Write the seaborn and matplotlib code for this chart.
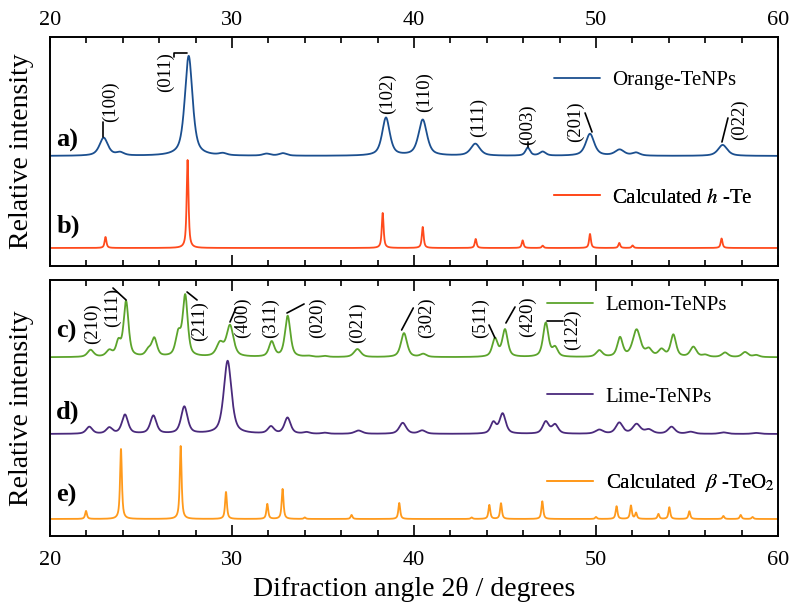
import numpy as np
import matplotlib
matplotlib.use('Agg')
import matplotlib.pyplot as plt
import seaborn as sns

# peak tables (position in 2theta, height, fwhm)
orange_pos = [22.95, 23.85, 27.62, 29.5, 31.9, 32.8, 38.46, 40.48, 43.37, 46.25, 47.07, 49.67, 51.3, 52.2, 56.96]
orange_int = [18, 3, 100, 2, 2, 2.5, 38, 36, 12, 8, 4, 22, 6, 3, 11]
orange_fwhm = [0.55, 0.5, 0.5, 0.5, 0.5, 0.5, 0.5, 0.55, 0.6, 0.3, 0.4, 0.55, 0.6, 0.5, 0.6]

hte_pos = [23.05, 27.56, 38.28, 40.48, 43.39, 45.97, 47.07, 49.67, 51.28, 52.01, 56.90]
hte_int = [11, 88, 35, 21, 9, 7.6, 2.3, 14, 5, 2.5, 9.5]
hte_fwhm = [0.12] * len(hte_pos)

lemon_pos = [22.23, 23.26, 23.76, 24.18, 25.40, 25.73, 27.05, 27.43, 29.34, 29.89, 32.18, 33.06, 34.19,
             35.1, 36.89, 39.45, 40.51, 44.45, 45.0, 47.24, 47.75, 50.18, 51.32, 52.23, 52.9, 53.6,
             54.25, 55.35, 56.0, 57.09, 58.19, 58.8]
lemon_int = [7, 6, 14, 55, 6, 18, 22, 60, 13, 31, 15, 41, 1, 1, 8, 24, 3, 18, 27, 34, 9, 6.5, 19, 27,
             7, 7, 22, 10, 2, 4.5, 5, 2]
lemon_fwhm = [0.4, 0.4, 0.3, 0.32, 0.35, 0.35, 0.35, 0.32, 0.45, 0.45, 0.35, 0.35, 0.4, 0.4, 0.45, 0.4,
              0.4, 0.35, 0.35, 0.35, 0.35, 0.4, 0.35, 0.5, 0.4, 0.4, 0.35, 0.4, 0.4, 0.4, 0.4, 0.4]

lime_pos = [22.16, 23.26, 24.12, 25.68, 27.38, 29.76, 32.14, 33.05, 34.1, 35.1, 36.95, 39.38, 40.45,
            44.36, 44.87, 47.24, 47.75, 50.18, 51.28, 52.23, 52.9, 54.15, 55.2, 57.0, 58.8]
lime_int = [7, 6, 19, 18, 27, 73, 7, 16, 1.5, 1, 3.3, 11, 3.3, 11, 20, 12, 9, 4, 11, 9.5, 4, 7, 2, 1.5, 1]
lime_fwhm = [0.4, 0.4, 0.4, 0.4, 0.42, 0.5, 0.4, 0.4, 0.4, 0.4, 0.5, 0.45, 0.45, 0.35, 0.4, 0.4, 0.4,
             0.5, 0.45, 0.5, 0.5, 0.45, 0.5, 0.5, 0.5]

teo2_pos = [21.98, 23.90, 27.18, 29.67, 31.94, 32.78, 34.0, 36.57, 39.19, 43.17, 44.14, 44.78, 47.05,
            50.0, 51.13, 51.92, 52.2, 53.43, 54.03, 55.13, 57.0, 57.95, 58.6]
teo2_int = [8, 70, 73, 27, 15, 30, 1.5, 4, 16, 1.5, 14, 15.7, 17.7, 2, 12.7, 13.3, 6, 5, 11.7, 7.7, 3, 4, 2]
teo2_fwhm = [0.12] * len(teo2_pos)

theta = np.linspace(20, 60, 4001)


def pattern(pos, inten, fwhm, eta):
    y = np.zeros_like(theta)
    for p, h, w in zip(pos, inten, fwhm):
        hw = w / 2
        lor = hw**2 / ((theta - p)**2 + hw**2)
        gau = np.exp(-np.log(2) * ((theta - p) / hw)**2)
        y += h * (eta * lor + (1 - eta) * gau)
    return y


sns.set_theme(style='ticks')
plt.rcParams['font.family'] = ['Liberation Serif', 'DejaVu Serif']
plt.rcParams['mathtext.fontset'] = 'stix'
plt.rcParams['text.color'] = 'black'
plt.rcParams['axes.labelcolor'] = 'black'
plt.rcParams['xtick.color'] = 'black'

fig = plt.figure(figsize=(8, 6.12), dpi=100)
ax1 = fig.add_axes([0.0625, 0.5654, 0.91, 0.3742])
ax2 = fig.add_axes([0.0625, 0.1242, 0.91, 0.4183])

top_series = [
    (pattern(orange_pos, orange_int, orange_fwhm, 0.65) + 110, '#1b4f8f', 'Orange-TeNPs', 0.812),
    (pattern(hte_pos, hte_int, hte_fwhm, 0.8) + 18, '#ff4a1c', 'Calculated $h$ -Te', 0.297),
]
bottom_series = [
    (pattern(lemon_pos, lemon_int, lemon_fwhm, 0.6) + 178.7, '#5ca42c', 'Lemon-TeNPs', 0.902),
    (pattern(lime_pos, lime_int, lime_fwhm, 0.6) + 102, '#4a2a7c', 'Lime-TeNPs', 0.543),
    (pattern(teo2_pos, teo2_int, teo2_fwhm, 0.8) + 17, '#ff9a1c', r'Calculated  $\beta$ -TeO$_2$', 0.207),
]

for ax, series, lx in [(ax1, top_series, 0.692), (ax2, bottom_series, 0.683)]:
    for y, color, label, ly in series:
        sns.lineplot(x=theta, y=y, ax=ax, color=color, lw=1.3, estimator=None, sort=False)
        h = ax.lines[-1]
        leg = ax.legend([h], [label], loc='center left', bbox_to_anchor=(lx, ly), frameon=False,
                        fontsize=15, handlelength=2.2, handletextpad=0.6, borderpad=0, borderaxespad=0,
                        labelcolor='black')
        ax.add_artist(leg)

for ax in (ax1, ax2):
    ax.set_xlim(20, 60)
    ax.set_xticks([20, 30, 40, 50, 60])
    ax.set_xticks(np.arange(20, 61, 2), minor=True)
    ax.set_yticks([])
    ax.tick_params(axis='x', which='both', direction='in', top=True, bottom=True,
                   width=1.2, labelsize=16, colors='black')
    ax.tick_params(axis='x', which='major', length=8)
    ax.tick_params(axis='x', which='minor', length=4.5)
    for s in ax.spines.values():
        s.set_visible(True)
        s.set_linewidth(1.4)
        s.set_color('black')
    ax.set_ylabel('Relative intensity', fontsize=20, color='black')
    ax.yaxis.set_label_coords(-0.022, 0.5)

ax1.set_ylim(0, 229)
ax2.set_ylim(0, 256)
ax1.tick_params(axis='x', labeltop=True, labelbottom=False, pad=5)
ax2.tick_params(axis='x', pad=11)
ax1.set_xlabel('')
ax2.set_xlabel('Difraction angle 2θ / degrees', fontsize=20, labelpad=5, color='black')

# panel letters
for ax, txt, y in [(ax1, 'a)', 126), (ax1, 'b)', 40), (ax2, 'c)', 205), (ax2, 'd)', 124), (ax2, 'e)', 41)]:
    ax.text(20.35, y, txt, fontsize=19, fontweight='bold', va='center', ha='left', color='black')

# Miller index labels with leader lines
top_labels = [('(100)', 23.30, 164), ('(011)', 26.32, 194), ('(102)', 38.52, 172), ('(110)', 40.60, 174),
              ('(111)', 43.52, 149), ('(003)', 46.26, 141), ('(201)', 48.85, 144), ('(022)', 57.91, 146)]
top_leaders = [([22.90, 22.90], [144, 129]), ([26.81, 26.81, 27.53], [209, 213, 213]),
               ([46.25, 46.25], [124, 119]), ([49.40, 49.78], [153, 134]), ([57.25, 56.92], [148, 124])]
bottom_labels = [('(210)', 22.31, 212), ('(111)', 23.41, 229), ('(211)', 28.19, 215), ('(400)', 30.60, 218),
                 ('(311)', 32.14, 218), ('(020)', 34.67, 218), ('(021)', 36.87, 213), ('(302)', 40.71, 218),
                 ('(511)', 43.63, 218), ('(420)', 46.21, 219), ('(122)', 48.68, 206)]
bottom_leaders = [([23.46, 24.18], [248, 236]), ([27.53, 28.08], [244, 236]), ([29.89, 30.22], [214, 228]),
                  ([33.02, 33.96], [223, 232]), ([39.32, 39.96], [206, 228]), ([44.12, 44.45], [211, 198]),
                  ([45.05, 45.55], [213, 229]), ([47.31, 48.19], [215, 215])]

for ax, labels, leaders in [(ax1, top_labels, top_leaders), (ax2, bottom_labels, bottom_leaders)]:
    for txt, x, y in labels:
        ax.text(x, y, txt, rotation=90, fontsize=13.5, ha='center', va='center', color='black')
    for xs, ys in leaders:
        ax.plot(xs, ys, color='black', lw=1.2)

fig.savefig('out.png', dpi=100)
